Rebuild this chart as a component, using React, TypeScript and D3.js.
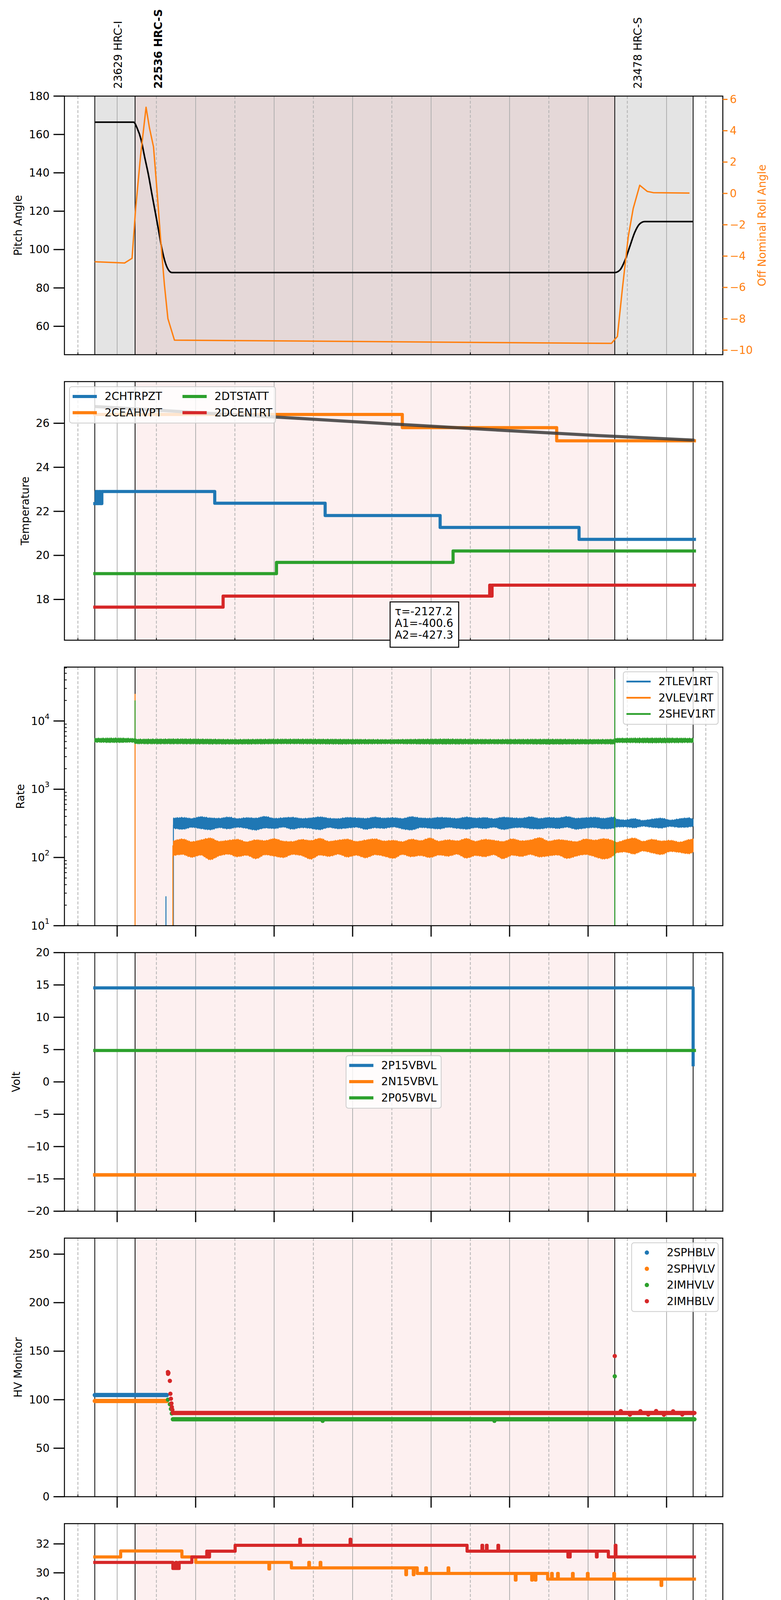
import React from "react";
import * as d3 from "d3";

type P = [number, number];

// figure layout (px)
const W = 2000;
const H = 5400;
const LEFT = 165;
const RIGHT = 1851;
const TOP0 = 246;
const STEP = 730.9;
const PH = 662;
const FONT = "DejaVu Sans";
const FS = 27.8;

const BLUE = "#1f77b4";
const ORANGE = "#ff7f0e";
const GREEN = "#2ca02c";
const RED = "#d62728";

// time axis: minutes after 2021-05-04 00:00 (DOY 124)
const tDomain = [19.7, 523];
const hourTicks = [60, 120, 180, 240, 300, 360, 420, 480];
const hourLabels = ["01h", "02h", "03h", "04h", "05h", "06h", "07h", "08h"];
const halfTicks = [30, 90, 150, 210, 270, 330, 390, 450, 510];
const obsEdges = [42.9, 73.7, 440.4, 500.3];
const obsIds = ["23629 HRC-I", "22536 HRC-S", "23478 HRC-S"];
const obsStart = [42.9, 73.7, 440.4];
const obsBold = [false, true, false];
const hrcsSpan = [73.7, 440.4];
const pitchSpan = [42.9, 500.3];

// pitch / roll
const pitchT = [42.9, 72.6, 75.2, 78.3, 80.9, 84.0, 86.6, 89.3, 91.6, 94.2, 96.9, 100.0, 101.9, 440.4, 444.3, 448.1, 451.9, 455.7, 459.5, 463.3, 500.3];
const pitchV = [166.4, 166.4, 163.4, 157.3, 148.6, 138.7, 128.8, 118.9, 110.3, 100.4, 93.0, 88.7, 88.0, 88.0, 89.3, 94.2, 101.6, 109.0, 113.4, 114.6, 114.6];
const rollT = [42.9, 65.7, 71.4, 74.1, 77.9, 82.1, 84.7, 87.8, 90.4, 93.1, 96.1, 98.8, 103.8, 437.8, 442.4, 446.2, 450.7, 454.5, 459.5, 465.2, 469.8, 497.5];
const rollV = [-4.36, -4.44, -4.14, -1.0, 2.4, 5.5, 4.18, 2.97, 0.25, -2.77, -5.8, -7.99, -9.36, -9.57, -9.13, -6.1, -2.77, -0.96, 0.52, 0.13, 0.05, 0.02];

// temperature (step values)
const chtrpzt: P[] = [[42.9, 22.35], [44, 22.9], [45, 22.35], [46.2, 22.9], [47.3, 22.35], [48.3, 22.9], [134.6, 22.37], [219.0, 21.81], [306.9, 21.27], [413.1, 20.73], [501.3, 20.73]];
const ceahvpt: P[] = [[42.9, 26.4], [278.0, 25.8], [396.0, 25.2], [501.3, 25.2]];
const dtstatt: P[] = [[42.9, 19.17], [181.8, 19.68], [316.8, 20.2], [501.3, 20.2]];
const dcentrt: P[] = [[42.9, 17.65], [141.0, 18.15], [344.8, 18.65], [345.6, 18.15], [346.6, 18.65], [501.3, 18.65]];
const fitT = [42.9, 122.8, 198.9, 275.0, 351.1, 427.2, 501.3];
const fitV = [26.76, 26.48, 26.22, 25.95, 25.69, 25.44, 25.23];
const fitText = ["\u03c4=-2127.2", "A1=-400.6", "A2=-427.3"];

// rates: envelopes of the noisy telemetry
const rateT = [
  103, 110, 117, 124, 131, 138, 145, 152, 159, 166,
  173, 180, 187, 194, 201, 208, 215, 222, 229, 236,
  243, 250, 257, 264, 271, 278, 285, 292, 299, 306,
  313, 320, 327, 334, 341, 348, 355, 362, 369, 376,
  383, 390, 397, 404, 411, 418, 425, 432, 439.5, 441.5,
  448, 455, 462, 469, 476, 483, 490, 497, 500.3,
];
const tlevHi = [
  372, 381, 368, 390, 375, 370, 386, 366, 378, 372,
  394, 369, 377, 383, 368, 374, 388, 371, 366, 380,
  376, 369, 385, 372, 378, 367, 391, 374, 370, 382,
  377, 368, 386, 373, 379, 365, 384, 376, 371, 389,
  368, 380, 374, 392, 370, 377, 383, 369, 386, 362,
  350, 366, 345, 360, 372, 348, 365, 376, 360,
];
const tlevLo = [
  272, 262, 280, 268, 258, 276, 266, 281, 270, 255,
  274, 268, 282, 263, 277, 270, 259, 279, 267, 273,
  281, 262, 275, 270, 284, 266, 256, 278, 272, 265,
  280, 271, 263, 277, 269, 282, 260, 274, 279, 268,
  265, 276, 270, 281, 262, 273, 278, 266, 271, 282,
  285, 276, 290, 280, 274, 288, 279, 283, 290,
];
const vlevHi = [
  172, 184, 168, 178, 190, 170, 176, 182, 167, 179,
  174, 186, 171, 169, 181, 175, 188, 170, 177, 183,
  169, 178, 185, 172, 176, 168, 183, 174, 190, 171,
  179, 173, 187, 170, 182, 176, 169, 185, 173, 178,
  192, 171, 180, 175, 168, 184, 177, 186, 172, 165,
  178, 190, 170, 182, 172, 176, 166, 180, 185,
];
const vlevLo = [
  108, 112, 102, 110, 94, 107, 113, 104, 109, 97,
  111, 106, 101, 112, 108, 96, 110, 105, 113, 103,
  109, 100, 111, 106, 98, 112, 104, 108, 101, 110,
  106, 113, 99, 108, 104, 111, 97, 109, 105, 112,
  103, 107, 110, 98, 106, 112, 104, 96, 108, 118,
  122, 114, 126, 118, 112, 124, 120, 115, 121,
];
const shevT = [42.9, 58, 73.5, 74, 110, 150, 190, 230, 270, 310, 350, 390, 430, 440.2, 440.6, 470, 500.3];
const shevHi = [5500, 5550, 5450, 5350, 5380, 5300, 5350, 5320, 5280, 5360, 5300, 5330, 5290, 5320, 5500, 5550, 5500];
const shevLo = [4950, 4900, 4950, 4700, 4680, 4650, 4700, 4660, 4700, 4650, 4690, 4640, 4680, 4650, 4900, 4850, 4900];
// spikes: [time, from, to]
const tlevSpikes = [[97.3, 1, 27], [103.0, 1, 300]];
const vlevSpikes = [[73.7, 1, 25000], [102.6, 1, 150]];
const shevSpikes = [[73.7, 5000, 20000], [440.4, 1, 41000]];

// voltages
const p15vbvl: P[] = [[42.9, 14.55], [500.2, 14.55], [500.3, 2.65]];
const n15vbvl: P[] = [[42.9, -14.38], [501.3, -14.38]];
const p05vbvl: P[] = [[42.9, 4.86], [501.3, 4.86]];

// HV monitor: runs [start, end, value] and single points
const sphblvRuns = [[42.9, 98.0, 104.8]];
const sphvlvRuns = [[42.9, 98.0, 98.7]];
const imhvlvRuns = [[102.6, 501.3, 79.8]];
const imhblvRuns = [[102.6, 501.3, 86.3]];
const imhvlvPts: P[] = [[98.8, 100], [100.3, 95.3], [101.1, 90.5], [101.8, 85.8], [217.1, 78.2], [348.4, 78.2], [440.4, 124.1]];
const imhblvPts: P[] = [[98.8, 128.5], [98.9, 126.6], [99.2, 127.6], [100.3, 119.4], [100.7, 106.1], [101.1, 101], [101.5, 96.2], [101.8, 92.4], [102.2, 89.6], [440.4, 145], [445, 88.2], [452, 84.6], [460, 88.1], [466, 84.8], [472, 88.3], [478, 84.5], [485, 88.0], [492, 84.7]];

// detector temperatures
const spinatm: P[] = [[42.9, 17.0], [269.3, 17.63], [270.3, 17.0], [271.3, 17.63], [272.3, 17.0], [274.5, 17.63], [501.3, 17.63]];
const spinatmSpk: P[] = [[248.7, 17.63]];
const sphvatm: P[] = [[42.9, 31.1], [62.7, 31.51], [109.5, 31.1], [120.1, 30.72], [193.2, 30.34], [289.4, 29.96], [389.1, 29.57], [501.3, 29.57]];
const sphvatmSpk: P[] = [[176.0, 30.27], [206.5, 30.72], [215.2, 30.72], [280.7, 29.87], [286.4, 29.87], [295.9, 30.34], [313.0, 30.34], [364.4, 29.5], [376.9, 29.5], [379.6, 29.5], [392.1, 29.96], [396.7, 29.96], [408.1, 29.96], [419.5, 29.96], [439.7, 29.96], [475.8, 29.13]];
const iminatm: P[] = [[42.9, 18.3], [90.4, 18.95], [263.6, 19.61], [264.4, 18.95], [265.4, 19.61], [501.3, 19.61]];
const iminatmSpk: P[] = [[440.6, 14.0]];
const imhvatm: P[] = [[42.9, 30.72], [102.6, 30.3], [104.9, 30.72], [105.5, 30.3], [107.4, 30.72], [117.1, 31.1], [128.5, 31.5], [129.6, 31.1], [130.6, 31.5], [150.2, 31.9], [327.5, 31.5], [435.5, 31.1], [501.3, 31.1]];
const imhvatmSpk: P[] = [[199.6, 32.32], [238.1, 32.32], [338.9, 31.9], [342.3, 31.9], [351.1, 31.9], [404.6, 31.1], [405.8, 31.1], [426.4, 31.1], [440.8, 31.9]];

// FEA temperatures
const fhtrmzt: P[] = [[42.9, 22.36], [128.5, 22.92], [243.8, 23.48], [376.2, 24.04], [478.9, 23.48], [501.3, 23.48]];
const fradpyt: P[] = [[42.9, 18.14], [101.8, 18.65], [122.0, 19.16], [235.8, 19.67], [380.7, 20.2], [450.7, 19.67], [458.3, 19.16], [471.7, 18.65], [501.3, 18.65]];
const fepratm: P[] = [[42.9, 23.87], [119.0, 24.63], [119.8, 23.87], [122.4, 24.63], [260.2, 25.39], [260.9, 24.63], [261.7, 25.39], [501.3, 25.39]];
const fe00atm: P[] = [[42.9, 22.03], [58.9, 22.35], [122.0, 22.66], [191.3, 22.99], [278.0, 23.31], [378.8, 23.62], [470.9, 23.31], [501.3, 23.31]];
const fe00atmSpk: P[] = [
  [123.2, 23.66], [131.5, 23.35], [139.9, 22.29], [142.2, 24.0], [146.0, 23.35], [156.3, 23.0], [158.2, 23.0], [162.7, 21.98], [165.8, 22.29], [171.5, 21.98], [182.5, 23.0], [184.8, 24.32], [188.2, 23.0],
  [197.4, 21.67], [200.8, 22.61], [205.3, 21.67], [207.2, 23.99], [208.8, 22.61], [234.6, 22.61], [241.1, 22.61], [256.0, 23.35], [258.6, 23.66],
  [279.5, 24.32], [286.8, 24.32], [290.2, 22.93], [294.8, 23.66], [298.2, 23.99], [307.3, 23.99], [323.0, 23.66], [326.7, 22.93], [329.4, 23.66], [339.7, 22.93], [344.6, 23.66], [348.4, 23.66], [359.1, 23.66], [365.1, 23.66],
  [392.1, 23.31], [395.6, 23.31], [401.7, 23.31], [411.6, 23.31], [416.1, 23.31], [420.3, 23.31], [428.3, 23.99], [440.8, 27.5],
];

// ticks
const pitchTicks = [60, 80, 100, 120, 140, 160, 180];
const rollTicks = [-10, -8, -6, -4, -2, 0, 2, 4, 6];
const tempTicks = [18, 20, 22, 24, 26];
const rateTicks = [10, 100, 1000, 10000];
const rateExp = ["1", "2", "3", "4"];
const voltTicks = [-20, -15, -10, -5, 0, 5, 10, 15, 20];
const hvTicks = [0, 50, 100, 150, 200, 250];
const detTicks = [16, 18, 20, 22, 24, 26, 28, 30, 32];
const feaTicks = [18, 20, 22, 24, 26];

// ---------- helpers
if (typeof document !== "undefined") document.body.style.margin = "0";

const pTop = (i: number) => TOP0 + STEP * i;
const pBot = (i: number) => pTop(i) + PH;
const xs = d3.scaleLinear().domain(tDomain).range([LEFT, RIGHT]);

const yPitch = d3.scaleLinear().domain([45.2, 180]).range([pBot(0), pTop(0)]);
const yRoll = d3.scaleLinear().domain([-10.29, 6.21]).range([pBot(0), pTop(0)]);
const yTemp = d3.scaleLinear().domain([16.15, 27.89]).range([pBot(1), pTop(1)]);
const yRate = d3.scaleLog().domain([10, 61600]).range([pBot(2), pTop(2)]);
const yVolt = d3.scaleLinear().domain([-20, 20]).range([pBot(3), pTop(3)]);
const yHv = d3.scaleLinear().domain([0, 266.5]).range([pBot(4), pTop(4)]);
const yDet = d3.scaleLinear().domain([15.53, 33.4]).range([pBot(5), pTop(5)]);
const yFea = d3.scaleLinear().domain([17.65, 26.9]).range([pBot(6), pTop(6)]);

const ctx = document.createElement("canvas").getContext("2d") as CanvasRenderingContext2D;
function textW(s: string, size = FS, bold = false) {
  ctx.font = `${bold ? "bold " : ""}${size}px '${FONT}'`;
  return ctx.measureText(s).width;
}
const fmt = (v: number) => (v < 0 ? "\u2212" + Math.abs(v) : String(v));

function spiked(steps: P[], spikes: P[], w = 0.5): P[] {
  const base = (t: number) => {
    let v = steps[0][1];
    for (const s of steps) if (s[0] <= t) v = s[1];
    return v;
  };
  const pts: P[] = steps.map((d) => [d[0], d[1]] as P);
  for (const [t, v] of spikes) {
    pts.push([t, v]);
    pts.push([t + w, base(t + w)]);
  }
  return pts.sort((a, b) => a[0] - b[0]);
}

const stepPath = (y: any, pts: P[]) =>
  d3.line<P>().x((d) => xs(d[0])).y((d) => y(d[1])).curve(d3.curveStepAfter)(pts) || "";

function Frame(props: {
  i: number;
  y: any;
  ticks: number[];
  label: string;
  xMode: "in" | "out" | "bottom";
  tickText?: (v: number, k: number) => React.ReactNode;
  tickW: number;
  gray?: boolean;
  minorY?: number[];
  children?: React.ReactNode;
}) {
  const { i, y, ticks, label, xMode, tickText, tickW, gray, minorY, children } = props;
  const top = pTop(i);
  const bot = pBot(i);
  const clip = `clip-${i}`;
  return (
    <g>
      <clipPath id={clip}>
        <rect x={LEFT} y={top} width={RIGHT - LEFT} height={PH} />
      </clipPath>
      {gray && (
        <rect x={xs(pitchSpan[0])} y={top} width={xs(pitchSpan[1]) - xs(pitchSpan[0])} height={PH} fill="#e4e4e4" />
      )}
      <rect x={xs(hrcsSpan[0])} y={top} width={xs(hrcsSpan[1]) - xs(hrcsSpan[0])} height={PH} fill="#f08080" fillOpacity={0.12} />
      {halfTicks.map((t) => (
        <line key={"d" + t} x1={xs(t)} x2={xs(t)} y1={top} y2={bot} stroke="#b0b0b0" strokeWidth={2} strokeDasharray="7.5,4.5" />
      ))}
      {hourTicks.map((t) => (
        <line key={"g" + t} x1={xs(t)} x2={xs(t)} y1={top} y2={bot} stroke="#b0b0b0" strokeWidth={2} />
      ))}
      {obsEdges.map((t) => (
        <line key={"o" + t} x1={xs(t)} x2={xs(t)} y1={top} y2={bot} stroke="#000" strokeWidth={2} />
      ))}
      <g clipPath={`url(#${clip})`}>{children}</g>
      <rect x={LEFT} y={top} width={RIGHT - LEFT} height={PH} fill="none" stroke="#000" strokeWidth={2.5} />
      {ticks.map((v, k) => (
        <g key={"yt" + v}>
          <line x1={LEFT - 28} x2={LEFT} y1={y(v)} y2={y(v)} stroke="#000" strokeWidth={3} />
          <text x={LEFT - 38} y={y(v)} textAnchor="end" dominantBaseline="central" fontSize={FS}>
            {tickText ? tickText(v, k) : fmt(v)}
          </text>
        </g>
      ))}
      {(minorY || []).map((v) => (
        <line key={"ym" + v} x1={LEFT} x2={LEFT + 6} y1={y(v)} y2={y(v)} stroke="#000" strokeWidth={2} />
      ))}
      {xMode !== "in" &&
        hourTicks.map((t) => (
          <line key={"xt" + t} x1={xs(t)} x2={xs(t)} y1={bot} y2={bot + 28} stroke="#000" strokeWidth={3} />
        ))}
      {halfTicks.map((t) => (
        <line
          key={"xm" + t}
          x1={xs(t)}
          x2={xs(t)}
          y1={bot}
          y2={xMode === "bottom" ? bot + 6 : bot - 6}
          stroke="#000"
          strokeWidth={2}
        />
      ))}
      {xMode === "bottom" && (
        <g>
          {halfTicks.map((t) => (
            <text key={"xl" + t} x={xs(t)} y={bot + 16} textAnchor="middle" dominantBaseline="central" fontSize={17}>
              30
            </text>
          ))}
          {hourTicks.map((t, k) => (
            <text key={"xh" + t} x={xs(t)} y={bot + 51} textAnchor="middle" dominantBaseline="central" fontSize={FS}>
              {hourLabels[k]}
            </text>
          ))}
          <text x={(LEFT + RIGHT) / 2} y={bot + 92} textAnchor="middle" dominantBaseline="central" fontSize={FS}>
            2021-05-04 (124)
          </text>
        </g>
      )}
      <text
        transform={`translate(${LEFT - 65 - tickW},${(top + bot) / 2}) rotate(-90)`}
        textAnchor="middle"
        dominantBaseline="central"
        fontSize={FS}
      >
        {label}
      </text>
    </g>
  );
}

function Legend(props: {
  i: number;
  names: string[];
  colors: string[];
  anchor: "ul" | "ur" | "cr" | "c";
  kind?: "line" | "dot";
  lw?: number;
  cols?: number;
}) {
  const { i, names, colors, anchor, kind = "line", lw = 8, cols = 1 } = props;
  const rows = Math.ceil(names.length / cols);
  const colW: number[] = [];
  for (let c = 0; c < cols; c++) {
    colW.push(d3.max(names.slice(c * rows, c * rows + rows), (s) => textW(s)) || 0);
  }
  const colX: number[] = [0];
  for (let c = 1; c < cols; c++) colX.push(colX[c - 1] + 90 + colW[c - 1] + 44);
  const w = colX[cols - 1] + 90 + colW[cols - 1] + 8;
  const h = 41.5 * rows + 10;
  const top = pTop(i);
  const mid = top + PH / 2;
  const bx = anchor === "ul" ? LEFT + 13 : anchor === "c" ? (LEFT + RIGHT) / 2 - w / 2 : RIGHT - 12 - w;
  const by = anchor === "ul" ? top + 13 : anchor === "ur" ? top + 12 : mid - h / 2;
  return (
    <g>
      <rect x={bx} y={by} width={w} height={h} rx={6} fill="#fff" fillOpacity={0.8} stroke="#cccccc" strokeWidth={2} />
      {names.map((s, k) => {
        const c = Math.floor(k / rows);
        const r = k % rows;
        const cx = bx + colX[c];
        const cy = by + 25 + 41.5 * r;
        return (
          <g key={s}>
            {kind === "line" ? (
              <line x1={cx + 8} x2={cx + 70} y1={cy} y2={cy} stroke={colors[k]} strokeWidth={lw} />
            ) : (
              <circle cx={cx + 39} cy={cy} r={5.5} fill={colors[k]} />
            )}
            <text x={cx + 90} y={cy} dominantBaseline="central" fontSize={FS}>
              {s}
            </text>
          </g>
        );
      })}
    </g>
  );
}

function Step({ y, pts, color, lw = 8 }: { y: any; pts: P[]; color: string; lw?: number }) {
  return <path d={stepPath(y, pts)} fill="none" stroke={color} strokeWidth={lw} strokeLinejoin="round" strokeLinecap="square" />;
}

// noisy band: filled envelope plus an uneven fringe along both edges
function RateBand({ t, hi, lo, color }: { t: number[]; hi: number[]; lo: number[]; color: string }) {
  const area = d3
    .area<number>()
    .x((d) => xs(d))
    .y0((_, k) => yRate(lo[k]))
    .y1((_, k) => yRate(hi[k]))
    .curve(d3.curveMonotoneX);
  const edge = (vals: number[]) =>
    d3
      .line<number>()
      .x((d) => xs(d))
      .y((_, k) => yRate(vals[k]))
      .curve(d3.curveMonotoneX)(t) || "";
  return (
    <g>
      <path d={area(t) || ""} fill={color} stroke={color} strokeWidth={2} />
      <path d={edge(hi)} fill="none" stroke={color} strokeWidth={5} strokeDasharray="2,3,1.5,2.2,2.6,4.4,1.2,2.8,3,5.1,1.8,2.4" />
      <path d={edge(lo)} fill="none" stroke={color} strokeWidth={5} strokeDasharray="1.6,2.7,2.9,4.8,1.3,2.1,2.2,3.6,1.7,5.5,2.5,2.3" />
    </g>
  );
}

function Spikes({ s, color }: { s: number[][]; color: string }) {
  return (
    <g>
      {s.map(([t, a, b]) => (
        <line key={t} x1={xs(t)} x2={xs(t)} y1={yRate(a)} y2={yRate(b)} stroke={color} strokeWidth={2.5} />
      ))}
    </g>
  );
}

function Runs({ runs, pts, color }: { runs: number[][]; pts: P[]; color: string }) {
  return (
    <g>
      {runs.map(([a, b, v]) => (
        <line key={a} x1={xs(a)} x2={xs(b)} y1={yHv(v)} y2={yHv(v)} stroke={color} strokeWidth={11} strokeLinecap="round" />
      ))}
      {pts.map(([t, v], k) => (
        <circle key={k} cx={xs(t)} cy={yHv(v)} r={5.5} fill={color} />
      ))}
    </g>
  );
}

export default function App() {
  const pitchLine = d3
    .line<number>()
    .x((d) => xs(d))
    .y((_, k) => yPitch(pitchV[k]))
    .curve(d3.curveMonotoneX)(pitchT) || "";
  const rollLine = d3
    .line<number>()
    .x((d) => xs(d))
    .y((_, k) => yRoll(rollV[k]))(rollT) || "";
  const fitLine = d3
    .line<number>()
    .x((d) => xs(d))
    .y((_, k) => yTemp(fitV[k]))
    .curve(d3.curveMonotoneX)(fitT) || "";

  const maxW = (ticks: number[]) => d3.max(ticks, (v) => textW(fmt(v))) || 0;
  const logW = textW("10") + textW("4", 19.5);
  const minorLog: number[] = [];
  [10, 100, 1000, 10000].forEach((d) => [2, 3, 4, 5, 6, 7, 8, 9].forEach((m) => m * d <= 61600 && minorLog.push(m * d)));

  const annX = 999;
  const annY = pTop(1) + 564;
  const annW = 12 + d3.max(fitText, (s) => textW(s))! + 14;

  return (
    <svg
      width={W}
      height={H}
      viewBox={`0 0 ${W} ${H}`}
      style={{ display: "block", background: "#fff" }}
      fontFamily={`'${FONT}', sans-serif`}
    >
      <rect x={0} y={0} width={W} height={H} fill="#fff" />

      {/* observation labels */}
      {obsIds.map((s, k) => (
        <text
          key={s}
          transform={`translate(${xs(obsStart[k]) + 69},${TOP0 - 19}) rotate(-90)`}
          fontSize={FS}
          fontWeight={obsBold[k] ? "bold" : "normal"}
        >
          {s}
        </text>
      ))}

      {/* pitch / roll */}
      <Frame i={0} y={yPitch} ticks={pitchTicks} label="Pitch Angle" xMode="in" tickW={maxW(pitchTicks)} gray>
        <path d={pitchLine} fill="none" stroke="#000" strokeWidth={4} />
        <path d={rollLine} fill="none" stroke={ORANGE} strokeWidth={3.5} strokeLinejoin="round" />
      </Frame>
      <g>
        {rollTicks.map((v) => (
          <g key={"r" + v}>
            <line x1={RIGHT} x2={RIGHT + 12} y1={yRoll(v)} y2={yRoll(v)} stroke={ORANGE} strokeWidth={3} />
            <text x={RIGHT + 18} y={yRoll(v)} dominantBaseline="central" fontSize={FS} fill={ORANGE}>
              {fmt(v)}
            </text>
          </g>
        ))}
        <text
          transform={`translate(1951,${pTop(0) + PH / 2}) rotate(-90)`}
          textAnchor="middle"
          dominantBaseline="central"
          fontSize={FS}
          fill={ORANGE}
        >
          Off Nominal Roll Angle
        </text>
      </g>

      {/* temperature */}
      <Frame i={1} y={yTemp} ticks={tempTicks} label="Temperature" xMode="in" tickW={maxW(tempTicks)}>
        <Step y={yTemp} pts={chtrpzt} color={BLUE} />
        <Step y={yTemp} pts={ceahvpt} color={ORANGE} />
        <Step y={yTemp} pts={dtstatt} color={GREEN} />
        <Step y={yTemp} pts={dcentrt} color={RED} />
        <path d={fitLine} fill="none" stroke="#3a3a3a" strokeOpacity={0.85} strokeWidth={8} />
      </Frame>
      <Legend i={1} names={["2CHTRPZT", "2CEAHVPT", "2DTSTATT", "2DCENTRT"]} colors={[BLUE, ORANGE, GREEN, RED]} anchor="ul" cols={2} />
      <g>
        <rect x={annX} y={annY} width={annW} height={116} fill="#fff" stroke="#000" strokeWidth={2.5} />
        {fitText.map((s, k) => (
          <text key={s} x={annX + 12} y={annY + 25 + 30 * k} dominantBaseline="central" fontSize={FS}>
            {s}
          </text>
        ))}
      </g>

      {/* rates */}
      <Frame
        i={2}
        y={yRate}
        ticks={rateTicks}
        label="Rate"
        xMode="out"
        tickW={logW}
        minorY={minorLog}
        tickText={(_, k) => (
          <>
            <tspan>10</tspan>
            <tspan dy={-12} fontSize={19.5}>
              {rateExp[k]}
            </tspan>
          </>
        )}
      >
        <Spikes s={tlevSpikes} color={BLUE} />
        <RateBand t={rateT} hi={tlevHi} lo={tlevLo} color={BLUE} />
        <Spikes s={vlevSpikes} color={ORANGE} />
        <RateBand t={rateT} hi={vlevHi} lo={vlevLo} color={ORANGE} />
        <RateBand t={shevT} hi={shevHi} lo={shevLo} color={GREEN} />
        <Spikes s={shevSpikes} color={GREEN} />
      </Frame>
      <Legend i={2} names={["2TLEV1RT", "2VLEV1RT", "2SHEV1RT"]} colors={[BLUE, ORANGE, GREEN]} anchor="ur" lw={4.5} />

      {/* voltages */}
      <Frame i={3} y={yVolt} ticks={voltTicks} label="Volt" xMode="out" tickW={maxW(voltTicks)}>
        <Step y={yVolt} pts={p15vbvl} color={BLUE} />
        <Step y={yVolt} pts={n15vbvl} color={ORANGE} lw={9} />
        <Step y={yVolt} pts={p05vbvl} color={GREEN} />
      </Frame>
      <Legend i={3} names={["2P15VBVL", "2N15VBVL", "2P05VBVL"]} colors={[BLUE, ORANGE, GREEN]} anchor="c" />

      {/* HV monitor */}
      <Frame i={4} y={yHv} ticks={hvTicks} label="HV Monitor" xMode="out" tickW={maxW(hvTicks)}>
        <Runs runs={sphblvRuns} pts={[]} color={BLUE} />
        <Runs runs={sphvlvRuns} pts={[]} color={ORANGE} />
        <Runs runs={imhvlvRuns} pts={imhvlvPts} color={GREEN} />
        <Runs runs={imhblvRuns} pts={imhblvPts} color={RED} />
      </Frame>
      <Legend i={4} names={["2SPHBLV", "2SPHVLV", "2IMHVLV", "2IMHBLV"]} colors={[BLUE, ORANGE, GREEN, RED]} anchor="ur" kind="dot" />

      {/* detector temperatures */}
      <Frame i={5} y={yDet} ticks={detTicks} label="Detector Temp" xMode="out" tickW={maxW(detTicks)}>
        <Step y={yDet} pts={spiked(spinatm, spinatmSpk)} color={BLUE} />
        <Step y={yDet} pts={spiked(sphvatm, sphvatmSpk)} color={ORANGE} />
        <Step y={yDet} pts={spiked(iminatm, iminatmSpk)} color={GREEN} />
        <Step y={yDet} pts={spiked(imhvatm, imhvatmSpk)} color={RED} />
      </Frame>
      <Legend i={5} names={["2SPINATM", "2SPHVATM", "2IMINATM", "2IMHVATM"]} colors={[BLUE, ORANGE, GREEN, RED]} anchor="cr" />

      {/* FEA temperatures */}
      <Frame i={6} y={yFea} ticks={feaTicks} label="FEA Temp" xMode="bottom" tickW={maxW(feaTicks)}>
        <Step y={yFea} pts={fhtrmzt} color={BLUE} />
        <Step y={yFea} pts={fradpyt} color={ORANGE} />
        <Step y={yFea} pts={fepratm} color={GREEN} />
        <Step y={yFea} pts={spiked(fe00atm, fe00atmSpk)} color={RED} />
      </Frame>
      <Legend i={6} names={["2FHTRMZT", "2FRADPYT", "2FEPRATM", "2FE00ATM"]} colors={[BLUE, ORANGE, GREEN, RED]} anchor="ul" />
    </svg>
  );
}
